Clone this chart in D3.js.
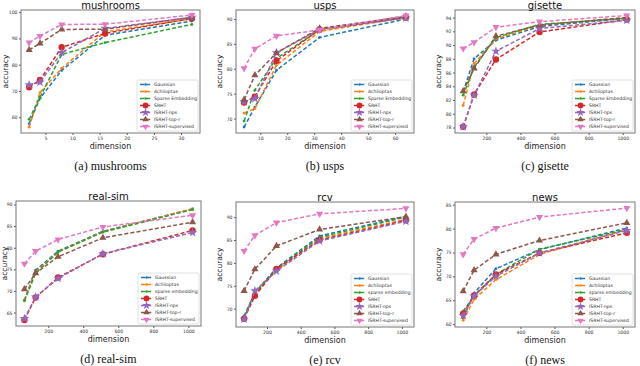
<html>
<script src='https://d3js.org/d3.v7.min.js'></script>
<style>
body { margin: 0; background: #fff; }
text { font-family: "DejaVu Sans", sans-serif; }
.caption { font-family: "Liberation Serif", serif; }
</style>
<body>
<svg id="chart" width="640" height="366"></svg>
<script>
// methods, in legend order
var methods = ["Gaussian", "Achlioptas", "Sparse Embedding", "SRHT", "ISRHT-nps", "ISRHT-top-r", "ISRHT-supervised"];
var methodsLower = ["Gaussian", "Achlioptas", "sparse embedding", "SRHT", "ISRHT-nps", "ISRHT-top-r", "ISRHT-supervised"];
var colors = ["#1f77b4", "#ff7f0e", "#2ca02c", "#d62728", "#9467bd", "#8c564b", "#e377c2"];
var markers = ["dot", "dot", "dot", "circle", "star", "up", "down"];

var dimsSmall1 = [2, 4, 8, 16, 32];
var dimsSmall2 = [4, 8, 16, 32, 64];
var dimsLarge = [64, 128, 256, 512, 1024];

// accuracy per method (rows follow methods order)
var mushrooms = [
  [57.5, 67.2, 77.8, 91.2, 96.6],
  [56.2, 69.4, 78.6, 92.5, 97.4],
  [59.2, 67.6, 83.9, 88.4, 95.3],
  [71.4, 74.2, 86.6, 91.9, 97.6],
  [72.3, 73.3, 84.6, 93.8, 98.0],
  [85.6, 88.1, 93.4, 93.5, 98.0],
  [88.4, 90.9, 95.3, 95.4, 98.9]
];
var usps = [
  [68.3, 72.3, 79.7, 86.3, 90.0],
  [71.1, 72.0, 80.7, 87.5, 90.3],
  [69.5, 75.7, 82.1, 87.8, 90.4],
  [73.2, 74.4, 81.6, 87.9, 90.3],
  [73.4, 74.0, 83.2, 87.9, 90.2],
  [73.8, 78.7, 83.2, 88.1, 90.5],
  [80.1, 84.0, 86.6, 87.8, 90.7]
];
var gisette = [
  [83.2, 88.0, 90.7, 92.7, 93.9],
  [81.2, 87.3, 90.9, 92.9, 94.0],
  [82.7, 86.8, 91.1, 93.0, 93.9],
  [78.1, 82.8, 87.9, 91.9, 93.7],
  [78.1, 82.7, 89.1, 92.4, 93.6],
  [83.3, 86.6, 91.3, 92.9, 94.0],
  [89.5, 90.4, 92.6, 93.4, 94.3]
];
var realSim = [
  [67.9, 74.8, 79.2, 83.8, 89.0],
  [67.9, 74.4, 79.0, 83.7, 89.0],
  [67.7, 74.1, 79.0, 83.6, 88.8],
  [63.3, 68.5, 73.1, 78.5, 84.0],
  [63.6, 68.6, 72.9, 78.6, 83.5],
  [70.4, 74.1, 77.9, 82.3, 85.9],
  [76.3, 79.2, 81.9, 84.8, 87.5]
];
var rcv = [
  [68.4, 73.5, 78.9, 85.9, 90.2],
  [68.0, 73.1, 78.4, 85.3, 89.5],
  [68.2, 73.3, 78.7, 85.6, 90.0],
  [67.8, 72.8, 78.7, 85.0, 89.3],
  [67.7, 73.9, 78.2, 84.8, 89.1],
  [73.9, 78.6, 83.7, 87.3, 90.1],
  [82.6, 86.0, 88.8, 90.7, 91.9]
];
var news = [
  [61.3, 66.5, 71.6, 75.6, 80.1],
  [60.8, 65.2, 69.3, 74.6, 79.8],
  [62.7, 65.9, 70.4, 75.7, 79.8],
  [62.2, 66.0, 70.4, 74.9, 79.1],
  [61.8, 65.9, 70.0, 74.9, 79.6],
  [66.9, 71.3, 74.6, 77.5, 81.2],
  [74.6, 77.8, 80.1, 82.4, 84.3]
];

var panels = [
  {title: "mushrooms", caption: "(a)  mushrooms", dims: dimsSmall1, acc: mushrooms, names: methods,
   x0: 21, x1: 200, y0: 10, y1: 133, xd: [0.5, 33.5], yd: [54.0, 100.8], yl: 13.5,
   xt: [5, 10, 15, 20, 25, 30], yt: [60, 70, 80, 90, 100]},
  {title: "usps", caption: "(b)  usps", dims: dimsSmall2, acc: usps, names: methods,
   x0: 236, x1: 414, y0: 10, y1: 133, xd: [1, 67], yd: [67.1, 91.8], yl: 14,
   xt: [10, 20, 30, 40, 50, 60], yt: [70, 75, 80, 85, 90]},
  {title: "gisette", caption: "(c)  gisette", dims: dimsLarge, acc: gisette, names: methods,
   x0: 455, x1: 635, y0: 10, y1: 133, xd: [16, 1072], yd: [77.2, 95.1], yl: 14,
   xt: [200, 400, 600, 800, 1000], yt: [78, 80, 82, 84, 86, 88, 90, 92, 94]},
  {title: "real-sim", caption: "(d)  real-sim", dims: dimsLarge, acc: realSim, names: methodsLower,
   x0: 16, x1: 201, y0: 201, y1: 326, xd: [16, 1072], yd: [61.9, 90.8], yl: 9,
   xt: [200, 400, 600, 800, 1000], yt: [65, 70, 75, 80, 85, 90]},
  {title: "rcv", caption: "(e)  rcv", dims: dimsLarge, acc: rcv, names: methodsLower,
   x0: 236, x1: 414, y0: 202, y1: 327, xd: [16, 1072], yd: [66.0, 93.3], yl: 14,
   xt: [200, 400, 600, 800, 1000], yt: [70, 75, 80, 85, 90]},
  {title: "news", caption: "(f)  news", dims: dimsLarge, acc: news, names: methodsLower,
   x0: 455, x1: 635, y0: 202, y1: 327, xd: [16, 1072], yd: [59.4, 85.56], yl: 14,
   xt: [200, 400, 600, 800, 1000], yt: [60, 65, 70, 75, 80, 85]}
];

var svg = d3.select("#chart");

function drawMarker(g, type, cx, cy, color, s) {
  if (type == "dot") {
    g.append("circle").attr("cx", cx).attr("cy", cy).attr("r", 1.4 * s).attr("fill", color);
  } else if (type == "circle") {
    g.append("circle").attr("cx", cx).attr("cy", cy).attr("r", 3.2 * s).attr("fill", color);
  } else {
    var sym = type == "star" ? d3.symbolStar : d3.symbolTriangle;
    var size = type == "star" ? 28 : 22;
    var rot = type == "down" ? 180 : 0;
    g.append("path")
      .attr("d", d3.symbol().type(sym).size(size * s * s)())
      .attr("transform", "translate(" + cx + "," + cy + ") rotate(" + rot + ")")
      .attr("fill", color);
  }
}

panels.forEach(function(p) {
  var x = d3.scaleLinear().domain(p.xd).range([p.x0, p.x1]);
  var y = d3.scaleLinear().domain(p.yd).range([p.y1, p.y0]);
  var g = svg.append("g");

  g.append("g")
    .attr("transform", "translate(0," + p.y1 + ")")
    .call(d3.axisBottom(x).tickValues(p.xt).tickSize(2).tickPadding(1.5).tickFormat(d3.format("d")))
    .call(function(a) { a.select(".domain").remove(); a.selectAll("text").attr("font-size", 4.6).attr("fill", "#333"); a.selectAll("line").attr("stroke", "#555"); });
  g.append("g")
    .attr("transform", "translate(" + p.x0 + ",0)")
    .call(d3.axisLeft(y).tickValues(p.yt).tickSize(2).tickPadding(1.5).tickFormat(d3.format("d")))
    .call(function(a) { a.select(".domain").remove(); a.selectAll("text").attr("font-size", 4.6).attr("fill", "#333"); a.selectAll("line").attr("stroke", "#555"); });

  var line = d3.line().x(function(d) { return x(d[0]); }).y(function(d) { return y(d[1]); });
  p.acc.forEach(function(vals, i) {
    var pts = p.dims.map(function(d, j) { return [d, vals[j]]; });
    g.append("path").attr("d", line(pts)).attr("fill", "none")
      .attr("stroke", colors[i]).attr("stroke-width", 1.5).attr("stroke-dasharray", "4,2.2");
    pts.forEach(function(pt) { drawMarker(g, markers[i], x(pt[0]), y(pt[1]), colors[i], 1); });
  });

  g.append("rect").attr("x", p.x0).attr("y", p.y0).attr("width", p.x1 - p.x0).attr("height", p.y1 - p.y0)
    .attr("fill", "none").attr("stroke", "#777").attr("stroke-width", 1);

  // legend
  var lw = 61, lh = 51;
  var lx = p.x1 - lw - 2, ly = p.y1 - lh - 2;
  var lg = g.append("g");
  lg.append("rect").attr("x", lx).attr("y", ly).attr("width", lw).attr("height", lh).attr("rx", 1.5)
    .attr("fill", "#fff").attr("fill-opacity", 0.85).attr("stroke", "#ccc").attr("stroke-width", 0.6);
  p.names.forEach(function(n, i) {
    var ry = ly + 4.5 + i * 7;
    lg.append("line").attr("x1", lx + 3).attr("x2", lx + 14).attr("y1", ry).attr("y2", ry)
      .attr("stroke", colors[i]).attr("stroke-width", 1.5).attr("stroke-dasharray", "4,2.2");
    drawMarker(lg, markers[i], lx + 8.5, ry, colors[i], 0.9);
    lg.append("text").attr("x", lx + 17).attr("y", ry + 1.6).attr("font-size", 4.6).attr("fill", "#333").text(n);
  });

  var cx = (p.x0 + p.x1) / 2;
  g.append("text").attr("x", cx).attr("y", p.y0 - 1.5).attr("text-anchor", "middle")
    .attr("font-size", 10).attr("fill", "#111").text(p.title);
  g.append("text").attr("x", cx).attr("y", p.y1 + 16).attr("text-anchor", "middle")
    .attr("font-size", 8).attr("fill", "#222").text("dimension");
  g.append("text").attr("transform", "translate(" + (p.x0 - p.yl) + "," + ((p.y0 + p.y1) / 2) + ") rotate(-90)")
    .attr("text-anchor", "middle").attr("font-size", 7.5).attr("fill", "#222").text("accuracy");
  g.append("text").attr("class", "caption").attr("x", cx).attr("y", p.y1 + 37).attr("text-anchor", "middle")
    .attr("font-size", 12).attr("fill", "#111").text(p.caption);
});
</script>
</body>
</html>
